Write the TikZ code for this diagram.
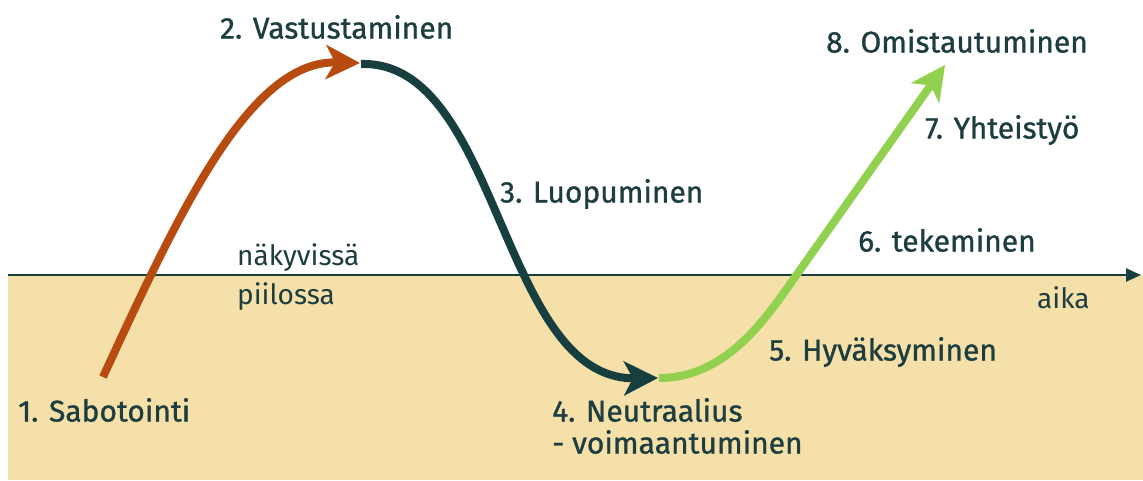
\documentclass[tikz,border=0pt]{standalone}
\usepackage{fontspec}
\setmainfont{Fira Sans}
\newfontfamily\labfont[FakeBold=1]{Fira Sans}
\newfontfamily\thinfont{Fira Sans}
\usetikzlibrary{arrows.meta}
\definecolor{beige}{HTML}{F4E0A8}
\definecolor{rust}{HTML}{B84C10}
\definecolor{deep}{HTML}{173F40}
\definecolor{leaf}{HTML}{92D050}
\definecolor{txt}{HTML}{1D3D40}
\tikzset{
  lab/.style={anchor=west,inner sep=0pt,text=txt,font=\labfont\fontsize{30}{34}\selectfont},
  thin/.style={anchor=west,inner sep=0pt,text=txt,font=\thinfont\fontsize{28}{32}\selectfont},
  bigarrow/.style={line width=8pt,-{Stealth[length=34pt,width=34pt,inset=9pt]}},
}
\begin{document}
\begin{tikzpicture}[x=1pt,y=-1pt]
\useasboundingbox (0,0) rectangle (1143,480);
\fill[white] (0,0) rectangle (1143,480);
\fill[beige] (8,275) rectangle (1143,480);
\coordinate (ax0) at (8,275);
\coordinate (ax1) at (1141,275);
\draw[deep,line width=2.5pt,-{Triangle[length=15pt,width=13pt]}] (ax0) -- (ax1);
% stage points
\coordinate (s1) at (103,377);
\coordinate (s2) at (360,63);
\coordinate (s2b) at (361,64);
\coordinate (s4) at (658,378);
\coordinate (s4b) at (659,378);
\coordinate (g1) at (800,270);
\coordinate (s8) at (945,65);
\draw[rust,bigarrow] (s1) .. controls (180,210) and (250,60) .. (s2);
\draw[leaf,bigarrow] (s4b) .. controls (730,378) and (770,312) .. (g1) -- (s8);
\draw[deep,bigarrow] (s2b) .. controls (500,60) and (500,380) .. (s4);
% labels
\node[lab] (t1) at (18,410) {1. Sabotointi};
\node[lab] (t2) at (220,27) {2. Vastustaminen};
\node[lab] (t3) at (500,194) {3. Luopuminen};
\node[lab] (t4) at (552,410) {4. Neutraalius};
\node[lab] (t4b) at (552,442) {- voimaantuminen};
\node[lab] (t5) at (769,352) {5. Hyväksyminen};
\node[lab] (t6) at (858,240) {6. tekeminen};
\node[lab] (t7) at (925,130) {7. Yhteistyö};
\node[lab] (t8) at (826,41) {8. Omistautuminen};
\node[thin] (vis) at (237,258) {näkyvissä};
\node[thin] (hid) at (237,297) {piilossa};
\node[thin] (aika) at (1037,298) {aika};
\end{tikzpicture}
\end{document}
